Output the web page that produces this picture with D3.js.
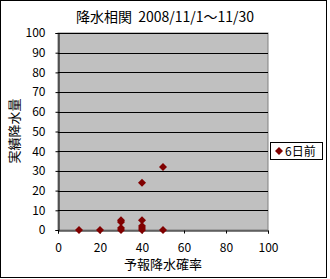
<!DOCTYPE html>
<html>
<head>
<meta charset="utf-8">
<script src="https://cdn.jsdelivr.net/npm/d3@7"></script>
<style>
body { margin: 0; background: #fff; }
text { font-family: "Noto Sans CJK JP", sans-serif; fill: #000; }
</style>
</head>
<body>
<script>
var title = "降水相関  2008/11/1～11/30";
var xLabel = "予報降水確率";
var yLabel = "実績降水量";
var seriesName = "6日前";
var xTicks = [0, 20, 40, 60, 80, 100];
var yTicks = [0, 10, 20, 30, 40, 50, 60, 70, 80, 90, 100];
// forecast probability / observed precipitation
var probs = [10, 20, 30, 30, 30, 30, 40, 40, 40, 40, 40, 50, 50];
var amounts = [0, 0, 0, 1, 4, 5, 0, 1, 2, 5, 24, 0, 32];

var w = 330, h = 279;
var svg = d3.select("body").append("svg")
    .attr("width", w)
    .attr("height", h);

svg.append("rect")
    .attr("x", 0.5).attr("y", 0.5)
    .attr("width", 326).attr("height", 277)
    .attr("fill", "#fff").attr("stroke", "#000");

var x = d3.scaleLinear().domain([0, 100]).range([58, 268]);
var y = d3.scaleLinear().domain([0, 100]).range([230, 33]);

svg.append("rect")
    .attr("x", x(0)).attr("y", y(100))
    .attr("width", x(100) - x(0)).attr("height", y(0) - y(100))
    .attr("fill", "#c0c0c0").attr("stroke", "#808080");

svg.selectAll("line.grid")
    .data(yTicks.slice(1))
  .enter().append("line")
    .attr("class", "grid")
    .attr("x1", x(0)).attr("x2", x(100))
    .attr("y1", function(d) { return Math.round(y(d)) + 0.5; })
    .attr("y2", function(d) { return Math.round(y(d)) + 0.5; })
    .attr("stroke", "#000");

var yAxis = svg.append("g")
    .attr("transform", "translate(" + (x(0) + 0.5) + ",0)")
    .call(d3.axisLeft(y).tickValues(yTicks).tickSize(3).tickPadding(10));
var xAxis = svg.append("g")
    .attr("transform", "translate(0," + (Math.round(y(0)) + 0.5) + ")")
    .call(d3.axisBottom(x).tickValues(xTicks).tickSize(3).tickPadding(10));

[yAxis, xAxis].forEach(function(g) {
  g.select(".domain").attr("stroke", "#000");
  g.selectAll(".tick line").attr("stroke", "#000");
  g.selectAll("text").style("font-size", "12px").attr("fill", "#000");
});

// square diamond marker
var diamond = "M0,-4L4,0L0,4L-4,0Z";

svg.selectAll("path.pt")
    .data(probs)
  .enter().append("path")
    .attr("class", "pt")
    .attr("d", diamond)
    .attr("transform", function(d, i) { return "translate(" + x(d) + "," + y(amounts[i]) + ")"; })
    .attr("fill", "#800000");

svg.append("text")
    .attr("x", 165).attr("y", 22)
    .attr("text-anchor", "middle")
    .style("font-size", "14px")
    .style("white-space", "pre")
    .text(title);

svg.append("text")
    .attr("x", 163).attr("y", 269)
    .attr("text-anchor", "middle")
    .style("font-size", "13px")
    .text(xLabel);

svg.append("text")
    .attr("transform", "translate(19,131)rotate(-90)")
    .attr("text-anchor", "middle")
    .style("font-size", "13px")
    .text(yLabel);

var legend = svg.append("g");
legend.append("rect")
    .attr("x", 270.5).attr("y", 142.5)
    .attr("width", 52).attr("height", 17)
    .attr("fill", "#fff").attr("stroke", "#000");
legend.append("path")
    .attr("d", diamond)
    .attr("transform", "translate(279,151)")
    .attr("fill", "#800000");
legend.append("text")
    .attr("x", 285).attr("y", 156)
    .style("font-size", "12px")
    .text(seriesName);
</script>
</body>
</html>
